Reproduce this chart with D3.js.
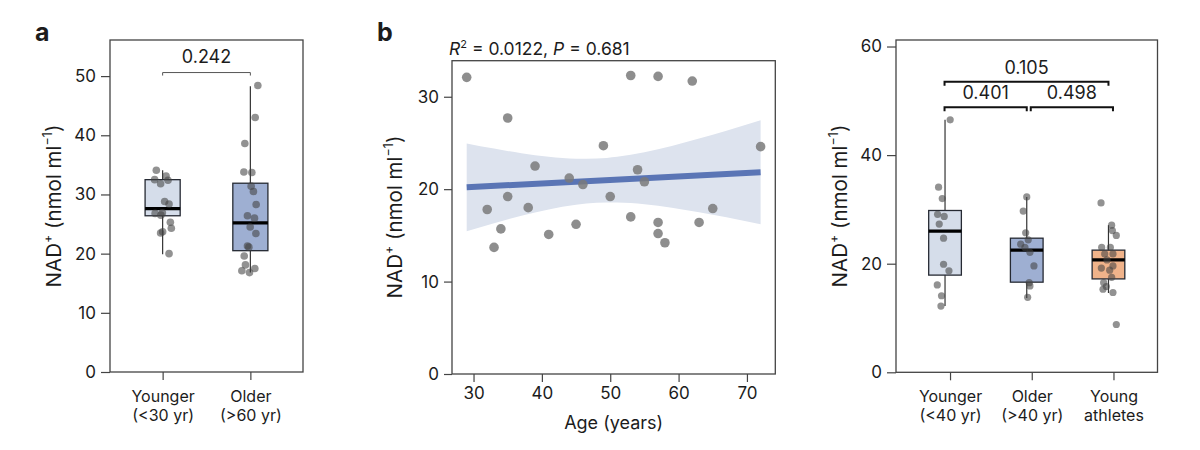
<!DOCTYPE html>
<html><head><meta charset="utf-8">
<script src="https://cdn.jsdelivr.net/npm/d3@7"></script>
<style>
html,body{margin:0;padding:0;background:#fff;}
svg text{font-family:Inter,"Noto Sans",sans-serif;fill:#1c1c1c;}
</style></head>
<body><svg id="chart" width="1200" height="450"></svg>
<script>
// ---------- DATA ----------
// Panel a
const catsA = ["Younger|(<30 yr)", "Older|(>60 yr)"];
const boxA_lo = [19.9, 16.8];
const boxA_q1 = [26.4, 20.5];
const boxA_med = [27.6, 25.2];
const boxA_q3 = [32.5, 31.9];
const boxA_hi = [34.1, 48.3];
const ptsA_young = [34.1, 32.5, 33.1, 32.4, 31.8, 28.8, 28.4, 26.8, 26.9, 26.5, 25.3, 24.3, 23.7, 23.5, 20.0];
const jitA_young = [-0.072, -0.091, 0.039, 0.061, -0.023, 0.023, 0.073, -0.086, -0.003, -0.02, 0.088, 0.099, 0.0, -0.023, 0.073];
const ptsA_old = [48.4, 43.0, 38.6, 33.8, 33.7, 31.4, 30.5, 28.3, 26.4, 26.0, 24.5, 23.4, 21.3, 21.1, 19.6, 18.1, 17.5, 17.1, 16.8];
const jitA_old = [0.085, 0.055, -0.063, -0.074, 0.017, 0.009, 0.035, 0.066, -0.033, 0.047, -0.002, 0.063, -0.033, -0.017, -0.07, -0.056, 0.051, -0.097, -0.01];
const pA = "0.242";
const yTicksA = [0, 10, 20, 30, 40, 50];

// Panel b
const ages = [29, 32, 33, 34, 35, 35, 38, 39, 41, 44, 45, 46, 49, 50, 53, 53, 54, 55, 57, 57, 57, 58, 62, 63, 65, 72];
const nadB = [32.1, 17.8, 13.7, 15.7, 27.7, 19.2, 18.0, 22.5, 15.1, 21.2, 16.2, 20.5, 24.7, 19.2, 32.3, 17.0, 22.1, 20.8, 32.2, 16.4, 15.2, 14.2, 31.7, 16.4, 17.9, 24.6];
const fitAges = [29, 72];
const fitVals = [20.2, 21.83];
const bandAges = [29, 33, 37, 41, 45, 48, 51, 55, 59, 63, 67, 72];
const bandUpper = [24.95, 24.39, 23.89, 23.50, 23.30, 23.32, 23.51, 23.99, 24.67, 25.47, 26.33, 27.46];
const bandLower = [15.45, 16.32, 17.12, 17.81, 18.31, 18.52, 18.56, 18.37, 18.00, 17.51, 16.95, 16.19];
const xTicksB = [30, 40, 50, 60, 70];
const yTicksB = [0, 10, 20, 30];
const statsB = {r2: "0.0122", p: "0.681"};

// Panel c
const catsC = ["Younger|(<40 yr)", "Older|(>40 yr)", "Young|athletes"];
const boxC_lo = [12.2, 13.7, 14.6];
const boxC_q1 = [17.9, 16.6, 17.2];
const boxC_med = [26.0, 22.5, 20.7];
const boxC_q3 = [29.8, 24.7, 22.5];
const boxC_hi = [46.5, 32.3, 27.1];
const ptsC_young = [46.5, 34.1, 32.0, 29.1, 28.7, 27.3, 24.7, 19.9, 18.7, 16.1, 14.1, 12.2];
const jitC_young = [0.063, -0.079, -0.034, -0.091, -0.01, -0.071, -0.018, -0.018, 0.048, -0.095, -0.043, -0.05];
const ptsC_old = [32.3, 29.7, 25.7, 24.4, 23.6, 23.0, 22.1, 19.6, 16.5, 15.9, 13.8];
const jitC_old = [0, -0.043, -0.013, 0.018, -0.074, -0.022, 0.039, 0.088, 0.03, 0.039, 0.011];
const ptsC_ath = [31.2, 27.1, 26.1, 25.2, 23.0, 23.0, 21.8, 21.8, 20.7, 19.2, 18.8, 19.6, 16.5, 15.8, 15.3, 14.7, 8.8, 17.5];
const jitC_ath = [-0.091, 0.039, 0.048, 0.096, -0.083, 0.023, -0.046, 0.055, -0.018, -0.087, 0.015, 0.055, -0.059, -0.026, -0.067, 0.055, 0.096, 0.039];
const compC = [[0, 2, "0.105", 53.5], [0, 1, "0.401", 48.8], [1, 2, "0.498", 48.8]];
const yTicksC = [0, 20, 40, 60];

// ---------- DRAWING ----------
const svg = d3.select("#chart");
const AX = "#444";
const FT = 17;   // tick label size
const FC = 16;   // category label size

function yTitle(g, x, y) {
  const t = g.append("text").attr("transform", `translate(${x},${y}) rotate(-90)`)
    .attr("text-anchor", "middle").attr("font-size", 20.5);
  t.append("tspan").text("NAD");
  t.append("tspan").attr("font-size", 12.5).attr("dy", -9).text("+");
  t.append("tspan").attr("dy", 9).text(" (nmol ml");
  t.append("tspan").attr("font-size", 12.5).attr("dy", -9).text("−1");
  t.append("tspan").attr("dy", 9).text(")");
}

function styleAxis(g) {
  g.selectAll(".domain").remove();
  g.selectAll(".tick line").attr("stroke", AX).attr("stroke-width", 1.2);
  g.selectAll(".tick text").attr("font-size", FT).attr("fill", "#1c1c1c")
    .style("font-family", 'Inter,"Noto Sans",sans-serif');
}

function frame(L, R, T, B) {
  svg.append("rect").attr("x", L).attr("y", T).attr("width", R - L).attr("height", B - T)
    .attr("fill", "none").attr("stroke", AX).attr("stroke-width", 1.3);
}

function boxPanel(cfg) {
  const {L, R, T, B, yMax, cats, lo, q1, med, q3, hi, pts, jit, fills, yTicks, tickShift, boxW, ptR} = cfg;
  const x = d3.scalePoint().domain(d3.range(cats.length)).range([L, R]).padding(0.6);
  const y = d3.scaleLinear().domain([0, yMax]).range([B, T]);
  const step = x.step();
  const gy = svg.append("g").attr("transform", `translate(${L},0)`)
    .call(d3.axisLeft(y).tickValues(yTicks).tickSize(9).tickPadding(5));
  styleAxis(gy);
  const gx = svg.append("g").attr("transform", `translate(${tickShift},${B})`)
    .call(d3.axisBottom(x).tickSize(8).tickFormat(() => ""));
  styleAxis(gx);
  gx.selectAll(".tick").each(function (d) {
    const parts = cats[d].split("|");
    const t = d3.select(this).append("text").attr("text-anchor", "middle")
      .attr("font-size", FC).attr("fill", "#1c1c1c");
    t.append("tspan").attr("x", 0).attr("y", 30).text(parts[0]);
    t.append("tspan").attr("x", 0).attr("y", 49).text(parts[1]);
  });
  frame(L, R, T, B);
  const bw = step * boxW;
  cats.forEach((c, i) => {
    const cx = x(i);
    const g = svg.append("g");
    g.append("line").attr("x1", cx).attr("x2", cx).attr("y1", y(hi[i])).attr("y2", y(lo[i]))
      .attr("stroke", "#333").attr("stroke-width", 1.2);
    g.append("rect").attr("x", cx - bw / 2).attr("width", bw).attr("y", y(q3[i]))
      .attr("height", y(q1[i]) - y(q3[i])).attr("fill", fills[i]).attr("stroke", "#262a33").attr("stroke-width", 1.3);
    g.append("line").attr("x1", cx - bw / 2).attr("x2", cx + bw / 2).attr("y1", y(med[i])).attr("y2", y(med[i]))
      .attr("stroke", "#000").attr("stroke-width", 3.2);
    pts[i].forEach((v, k) => {
      g.append("circle").attr("cx", cx + jit[i][k] * step).attr("cy", y(v)).attr("r", ptR)
        .attr("fill", "#444").attr("fill-opacity", 0.58);
    });
  });
  return {x, y};
}

// Panel labels
svg.append("text").attr("x", 35).attr("y", 41).attr("font-size", 25).attr("font-weight", 700)
  .style("font-family", 'Inter,"Liberation Sans",sans-serif').text("a");
svg.append("text").attr("x", 377).attr("y", 41).attr("font-size", 25).attr("font-weight", 700)
  .style("font-family", 'Inter,"Liberation Sans",sans-serif').text("b");

// ---- Panel a ----
const A = boxPanel({L: 110, R: 303, T: 40, B: 372, yMax: 56.1, cats: catsA,
  lo: boxA_lo, q1: boxA_q1, med: boxA_med, q3: boxA_q3, hi: boxA_hi,
  pts: [ptsA_young, ptsA_old], jit: [jitA_young, jitA_old],
  fills: ["#d5ddea", "#9eafd2"], yTicks: yTicksA, tickShift: 0, boxW: 0.4, ptR: 3.8});
yTitle(svg, 61, 206);
{
  const yb = A.y(50.6), x1 = A.x(0), x2 = A.x(1);
  svg.append("path").attr("d", `M${x1},${yb + 3}V${yb}H${x2}V${yb + 3}`)
    .attr("fill", "none").attr("stroke", "#555").attr("stroke-width", 1);
  svg.append("text").attr("x", (x1 + x2) / 2).attr("y", yb - 10).attr("text-anchor", "middle")
    .attr("font-size", 18).text(pA);
}

// ---- Panel b ----
{
  const L = 452, R = 775.3, T = 60.7, B = 374;
  const x = d3.scaleLinear().domain([26.85, 74.15]).range([L, R]);
  const y = d3.scaleLinear().domain([0, 33.9]).range([B, T]);
  const gy = svg.append("g").attr("transform", `translate(${L},0)`)
    .call(d3.axisLeft(y).tickValues(yTicksB).tickSize(8).tickPadding(5));
  styleAxis(gy);
  const gx = svg.append("g").attr("transform", `translate(0,${B})`)
    .call(d3.axisBottom(x).tickValues(xTicksB).tickSize(8).tickPadding(5));
  styleAxis(gx);
  const band = bandAges.map((a, i) => ({a, u: bandUpper[i], l: bandLower[i]}));
  svg.append("path").datum(band)
    .attr("d", d3.area().x(d => x(d.a)).y0(d => y(d.l)).y1(d => y(d.u)).curve(d3.curveMonotoneX))
    .attr("fill", "#dde3ee");
  svg.append("line").attr("x1", x(fitAges[0])).attr("x2", x(fitAges[1]))
    .attr("y1", y(fitVals[0])).attr("y2", y(fitVals[1]))
    .attr("stroke", "#5a75b5").attr("stroke-width", 6);
  svg.selectAll("circle.pb").data(ages).enter().append("circle").attr("class", "pb")
    .attr("cx", d => x(d)).attr("cy", (d, i) => y(nadB[i])).attr("r", 4.8)
    .attr("fill", "#7a7a7a").attr("fill-opacity", 0.85);
  frame(L, R, T, B);
  yTitle(svg, 402, 217);
  svg.append("text").attr("x", (L + R) / 2).attr("y", 429).attr("text-anchor", "middle")
    .attr("font-size", 18).text("Age (years)");
  const t = svg.append("text").attr("x", 449).attr("y", 55).attr("font-size", 17.5);
  t.append("tspan").attr("font-style", "italic").text("R");
  t.append("tspan").attr("font-size", 11).attr("dy", -7).text("2");
  t.append("tspan").attr("dy", 7).text(` = ${statsB.r2}, `);
  t.append("tspan").attr("font-style", "italic").text("P");
  t.append("tspan").text(` = ${statsB.p}`);
}

// ---- Panel c ----
const C = boxPanel({L: 896, R: 1157.5, T: 40, B: 372.3, yMax: 61.2, cats: catsC,
  lo: boxC_lo, q1: boxC_q1, med: boxC_med, q3: boxC_q3, hi: boxC_hi,
  pts: [ptsC_young, ptsC_old, ptsC_ath], jit: [jitC_young, jitC_old, jitC_ath],
  fills: ["#d5ddea", "#9eafd2", "#f0b38a"], yTicks: yTicksC, tickShift: 5, boxW: 0.4, ptR: 3.6});
yTitle(svg, 847, 206);
compC.forEach(([i, j, lab, v], k) => {
  const sh = (k === 2) ? 4.5 : 0;
  const x1 = C.x(i) + sh - 0.5, x2 = C.x(j) + sh;
  const yb = C.y(v);
  svg.append("path").attr("d", `M${x1},${yb + 4}V${yb}H${x2}V${yb + 4}`)
    .attr("fill", "none").attr("stroke", "#111").attr("stroke-width", 2);
  svg.append("text").attr("x", (x1 + x2) / 2).attr("y", yb - 8).attr("text-anchor", "middle")
    .attr("font-size", 18).text(lab);
});
</script></body></html>
